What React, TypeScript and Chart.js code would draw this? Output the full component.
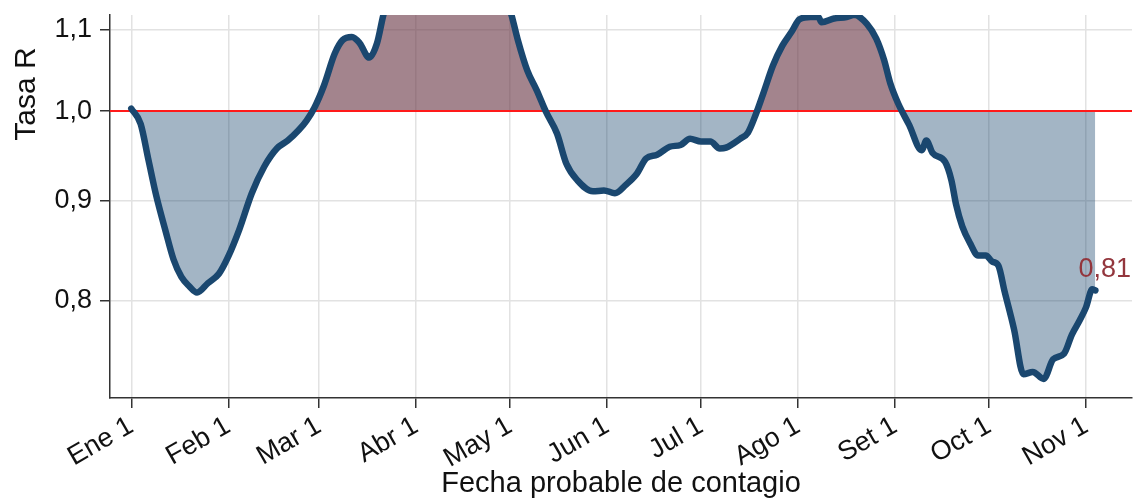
import React, { useEffect, useRef } from "react";
import { Chart, registerables } from "chart.js";

Chart.register(...registerables);

// ---- Data ----
const monthLabels = ["Ene 1", "Feb 1", "Mar 1", "Abr 1", "May 1", "Jun 1", "Jul 1", "Ago 1", "Set 1", "Oct 1", "Nov 1"];
const monthStartDays = [0, 31, 60, 91, 121, 152, 182, 213, 244, 274, 305];
const yTickValues = [0.8, 0.9, 1.0, 1.1];
const threshold = 1.0;
const lastValueLabel = "0,81";

// day offset from Jan 1 (2020)
const days = [
  0, 3, 5.5, 8, 11, 13.5, 16, 18.5, 21, 24.5, 28, 31, 34.5, 38.5, 42.5, 46.5, 50, 53.5, 56, 58.5,
  61.5, 65, 67.5, 70.5, 73, 76, 78.5, 80.5, 84, 90, 100, 110, 117, 121.5, 123.5, 126.5, 129.5,
  132.5, 136, 139, 142.5, 147.5, 151, 154.5, 158, 161.5, 164.5, 168, 172, 175.5, 178.5, 182, 185,
  188, 190, 194.5, 197, 199.5, 202, 205, 208, 211, 213.5, 217, 219.5, 220.5, 224.5, 228.5, 231,
  235, 238, 240.5, 242.5, 245, 248.5, 252.5, 254, 256, 260, 262, 263.5, 265.5, 268, 270.5, 273,
  275, 277, 279, 282, 285, 288, 291.5, 294.5, 298, 300.5, 303, 305, 307, 308,
];
const rValues = [
  1.003, 0.985, 0.944, 0.905, 0.868, 0.84, 0.823, 0.814, 0.808, 0.817, 0.826, 0.843, 0.87, 0.908, 0.937, 0.957, 0.966, 0.978, 0.989, 1.004,
  1.03, 1.07, 1.087, 1.091, 1.083, 1.065, 1.083, 1.119, 1.17, 1.22, 1.25, 1.24, 1.18, 1.119, 1.087, 1.049, 1.025,
  0.999, 0.974, 0.94, 0.922, 0.91, 0.911, 0.908, 0.917, 0.929, 0.946, 0.95, 0.959, 0.961, 0.968, 0.965, 0.965,
  0.957, 0.958, 0.968, 0.975, 0.996, 1.022, 1.055, 1.08, 1.098, 1.114, 1.117, 1.117, 1.11, 1.115, 1.117, 1.12,
  1.108, 1.089, 1.062, 1.033, 1.009, 0.984, 0.955, 0.966, 0.952, 0.942, 0.922, 0.896, 0.873, 0.856, 0.844, 0.844,
  0.838, 0.834, 0.809, 0.774, 0.734, 0.736, 0.73, 0.747, 0.752, 0.769, 0.782, 0.794, 0.811, 0.81,
];

const X_MIN = -6.8;
const X_MAX = 319.7;
const Y_MIN = 0.7138;
const Y_MAX = 1.1196;

const FONT = "'Liberation Sans', Arial, Helvetica, sans-serif";
const NAVY = "#1a476f";

export default function App() {
  const canvasRef = useRef<HTMLCanvasElement>(null);

  useEffect(() => {
    const canvas = canvasRef.current;
    if (!canvas) return;
    const points = days.map((d, i) => ({ x: d, y: rValues[i] }));

    const overlay = {
      id: "overlay",
      afterDraw(chart: any) {
        const { ctx, scales } = chart;
        const xs = scales.x;
        const ys = scales.y;
        ctx.save();
        ctx.fillStyle = "#111";
        ctx.font = `30px ${FONT}`;
        ctx.translate(35, 94);
        ctx.rotate(-Math.PI / 2);
        ctx.textAlign = "center";
        ctx.textBaseline = "alphabetic";
        ctx.fillText("Tasa R", 0, 0);
        ctx.restore();

        const lx = xs.getPixelForValue(days[days.length - 1]);
        const ly = ys.getPixelForValue(rValues[rValues.length - 1]);
        ctx.save();
        ctx.fillStyle = "#93363d";
        ctx.font = `27px ${FONT}`;
        ctx.textAlign = "left";
        ctx.textBaseline = "alphabetic";
        ctx.fillText(lastValueLabel, lx - 17, ly - 13);
        ctx.restore();
      },
    };

    const chart = new Chart(canvas, {
      type: "line",
      data: {
        datasets: [
          {
            data: points,
            borderColor: NAVY,
            borderWidth: 6.5,
            pointRadius: 0,
            tension: 0.4,
            cubicInterpolationMode: "monotone",
            borderJoinStyle: "round",
            borderCapStyle: "round",
            fill: {
              target: { value: threshold },
              above: "rgba(110,60,75,0.63)",
              below: "rgba(26,71,111,0.4)",
            },
            order: 0,
          } as any,
          {
            data: [
              { x: X_MIN, y: threshold },
              { x: X_MAX, y: threshold },
            ],
            borderColor: "#ff1a1a",
            borderWidth: 2,
            pointRadius: 0,
            fill: false,
            order: 1,
          },
        ],
      },
      options: {
        animation: false,
        responsive: false,
        layout: { padding: { top: 15, right: 3, left: 0, bottom: 0 } },
        plugins: {
          legend: { display: false },
          tooltip: { enabled: false },
          filler: { drawTime: "beforeDatasetsDraw" } as any,
        },
        scales: {
          x: {
            type: "linear",
            min: X_MIN,
            max: X_MAX,
            afterBuildTicks: (s: any) => {
              s.ticks = monthStartDays.map((v) => ({ value: v }));
            },
            afterFit: (s: any) => {
              s.height = 104;
            },
            ticks: {
              autoSkip: false,
              minRotation: 30,
              maxRotation: 30,
              padding: 2,
              color: "#111",
              font: { family: FONT, size: 27 },
              callback: (_v: any, i: number) => monthLabels[i] ?? "",
            },
            grid: { color: "#e2e2e2", lineWidth: 1.5, tickColor: "#333", tickLength: 10, tickWidth: 1.5 } as any,
            border: { color: "#333", width: 1.5 },
            title: {
              display: true,
              text: "Fecha probable de contagio",
              color: "#111",
              font: { family: FONT, size: 29 },
              padding: { top: 0, bottom: 1 },
            },
          },
          y: {
            type: "logarithmic",
            min: Y_MIN,
            max: Y_MAX,
            afterBuildTicks: (s: any) => {
              s.ticks = yTickValues.map((v) => ({ value: v }));
            },
            afterFit: (s: any) => {
              s.width = 110;
              s.paddingTop = 0;
              s.paddingBottom = 0;
            },
            ticks: {
              padding: 8,
              color: "#111",
              font: { family: FONT, size: 27 },
              callback: (v: any) => Number(v).toFixed(1).replace(".", ","),
            },
            grid: { color: "#e2e2e2", lineWidth: 1.5, tickColor: "#333", tickLength: 10, tickWidth: 1.5 } as any,
            border: { color: "#333", width: 1.5 },
          },
        },
      },
      plugins: [overlay],
    });
    return () => chart.destroy();
  }, []);

  return (
    <div style={{ position: "fixed", left: 0, top: 0, width: 1135, height: 502, background: "#fff" }}>
      <canvas ref={canvasRef} width={1135} height={502} style={{ display: "block" }} />
    </div>
  );
}
